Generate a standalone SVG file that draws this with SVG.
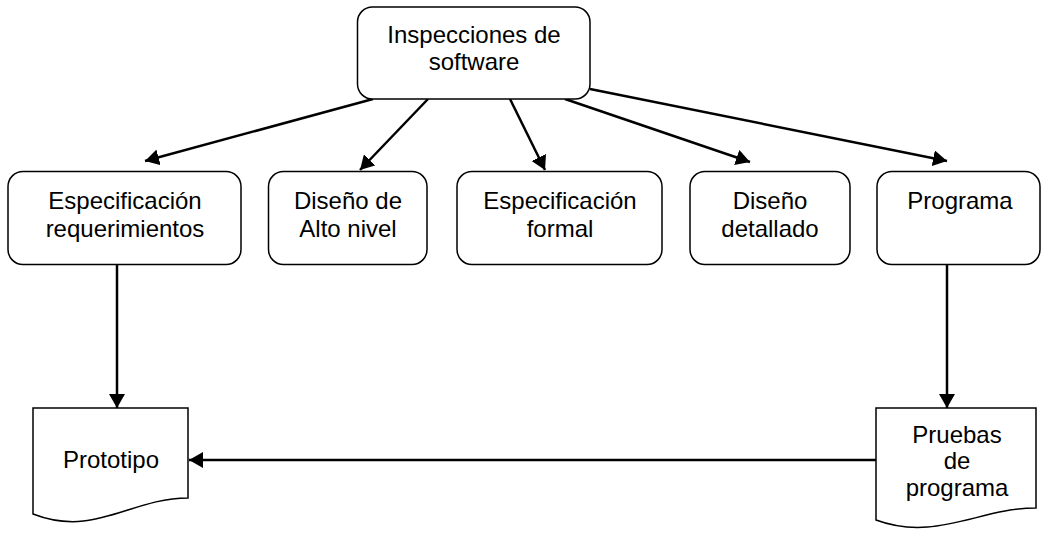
<svg xmlns="http://www.w3.org/2000/svg" width="1043" height="533" viewBox="0 0 1043 533">
<style>
.box{fill:#fff;stroke:#000;stroke-width:1.5}
.t{font-family:"Liberation Sans",Arial,sans-serif;font-size:24px;fill:#000;text-anchor:middle}
.c{stroke:#000;stroke-width:2.5;fill:none;marker-end:url(#ah)}
</style>
<defs>
<marker id="ah" markerUnits="userSpaceOnUse" markerWidth="16" markerHeight="16" refX="14" refY="8" orient="auto">
<path d="M0,0 L14,8 L0,16 z" fill="#000"/>
</marker>
</defs>
<rect width="1043" height="533" fill="#fff"/>
<g id="connectors">
<line class="c" x1="373" y1="99" x2="145" y2="161"/>
<line class="c" x1="428" y1="99" x2="360" y2="170"/>
<line class="c" x1="510" y1="99" x2="545" y2="170"/>
<line class="c" x1="565" y1="99" x2="750" y2="162"/>
<line class="c" x1="590" y1="89" x2="947" y2="161"/>
<line class="c" x1="117" y1="264" x2="117" y2="408"/>
<line class="c" x1="947" y1="264" x2="947" y2="408"/>
<line class="c" x1="876" y1="460" x2="189" y2="460"/>
</g>
<g id="inspecciones">
<rect class="box" x="357.5" y="7" width="232.5" height="92" rx="15"/>
<text class="t" x="474" y="43">Inspecciones de</text>
<text class="t" x="474" y="70">software</text>
</g>
<g id="especificacion-req">
<rect class="box" x="8" y="171.5" width="233" height="93" rx="15"/>
<text class="t" x="125" y="209">Especificación</text>
<text class="t" x="125" y="237">requerimientos</text>
</g>
<g id="diseno-alto">
<rect class="box" x="268.5" y="171.5" width="158.5" height="93" rx="15"/>
<text class="t" x="348" y="209">Diseño de</text>
<text class="t" x="348" y="237">Alto nivel</text>
</g>
<g id="especificacion-formal">
<rect class="box" x="457" y="171.5" width="205" height="93" rx="15"/>
<text class="t" x="560" y="209">Especificación</text>
<text class="t" x="560" y="237">formal</text>
</g>
<g id="diseno-detallado">
<rect class="box" x="690" y="171.5" width="160" height="93" rx="15"/>
<text class="t" x="770" y="209">Diseño</text>
<text class="t" x="770" y="237">detallado</text>
</g>
<g id="programa">
<rect class="box" x="877" y="171.5" width="163" height="93" rx="15"/>
<text class="t" x="960" y="209">Programa</text>
</g>
<g id="prototipo">
<path class="box" d="M33,408 H188 V498 C130,498 95,538 33,514 Z"/>
<text class="t" x="111" y="468">Prototipo</text>
</g>
<g id="pruebas">
<path class="box" d="M876,408 H1036 V508 C980,508 935,542 876,520 Z"/>
<text class="t" x="957" y="443">Pruebas</text>
<text class="t" x="957" y="469">de</text>
<text class="t" x="957" y="496">programa</text>
</g>
</svg>
